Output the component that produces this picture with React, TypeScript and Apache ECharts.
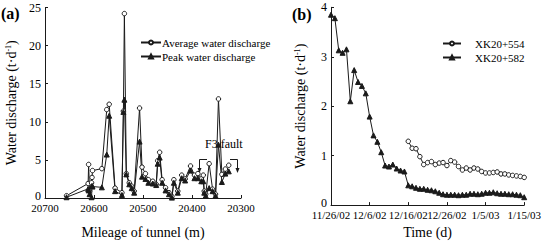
import React, { useEffect, useRef } from "react";
import * as echarts from "echarts";

// (a) Mileage of tunnel vs. water discharge
const mileage = [
  20656, 20612, 20611, 20609, 20605, 20604, 20603, 20584, 20574, 20569,
  20557, 20543, 20540, 20538, 20534, 20528, 20523, 20518, 20507, 20502,
  20495, 20489, 20480, 20473, 20470, 20466, 20461, 20454, 20447, 20441,
  20437, 20429, 20421, 20414, 20403, 20395, 20388, 20381, 20377, 20375,
  20372, 20365, 20358, 20352, 20346, 20339, 20332, 20325,
];
const avgDischarge = [
  0.3, 1.9, 4.4, 0.9, 2.0, 2.7, 3.6, 3.85, 11.6, 12.3,
  1.3, 0.7, 11.4, 24.2, 3.2, 2.0, 1.55, 0.9, 11.8, 4.05,
  3.2, 2.4, 2.2, 1.8, 4.9, 6.0, 2.4, 1.35, 0.7, 0.2,
  2.4, 0.9, 3.0, 2.5, 4.2, 3.0, 3.2, 2.5, 3.0, 0.9,
  0.5, 4.5, 1.15, 0.5, 13.0, 3.1, 3.8, 4.3,
];
const peakDischarge = [
  0.1, 1.2, 1.0, 0.5, 0.1, 1.6, 1.5, 1.4, 5.7, 10.8,
  0.9, 0.4, 11.3, 12.9, 3.1, 1.8, 1.3, 0.7, 7.4, 2.8,
  2.5, 2.0, 1.9, 1.7, 4.5, 5.3, 2.0, 1.0, 0.5, 0.05,
  2.0, 0.7, 2.6, 2.3, 3.6, 2.6, 2.6, 2.2, 2.2, 0.7,
  0.3, 1.3, 0.9, 0.3, 7.0, 2.1, 3.2, 3.5,
];
const mileageTicks = [20700, 20600, 20500, 20400, 20300];

// (b) Time vs. water discharge (days since 11/26/02)
const timeLabels = ["11/26/02", "12/6/02", "12/16/02", "12/26/02", "1/5/03", "1/15/03"];
const xk582Start = 0;
const xk582 = [
  3.85, 3.78, 3.13, 3.08, 3.15, 2.1, 2.73, 2.49, 2.41, 2.26,
  1.79, 1.41, 1.28, 1.07, 0.8, 0.78, 0.82, 0.74, 0.7, 0.68,
  0.4, 0.38, 0.35, 0.33, 0.33, 0.31, 0.3, 0.28, 0.25, 0.22,
  0.21, 0.21, 0.21, 0.2, 0.21, 0.21, 0.23, 0.23, 0.22, 0.23,
  0.25, 0.25, 0.26, 0.24, 0.23, 0.23, 0.22, 0.22, 0.21, 0.2,
  0.16,
];
const xk554Start = 20;
const xk554 = [
  1.29, 1.15, 1.14, 0.98, 0.82, 0.86, 0.88, 0.82, 0.85, 0.86,
  0.8, 0.9, 0.87, 0.78, 0.71, 0.75, 0.71, 0.75, 0.73, 0.68,
  0.65, 0.65, 0.66, 0.67, 0.63, 0.63, 0.61, 0.6, 0.59, 0.58,
  0.56,
];

const FONT = "'Liberation Serif', 'Times New Roman', serif";
const INK = "#1a1a1a";

export default function App() {
  const ref = useRef<HTMLDivElement>(null);

  useEffect(() => {
    if (!ref.current) return;
    const chart = echarts.init(ref.current, undefined, { renderer: "svg" });

    const axisCommon = {
      axisLine: { show: true, lineStyle: { color: INK, width: 1 } },
      axisTick: { show: true, inside: true, length: 3, lineStyle: { color: INK } },
      splitLine: { show: false },
      nameTextStyle: { color: "#000", fontFamily: FONT, fontSize: 14 },
    };
    const xLabel = {
      color: "#000",
      fontFamily: FONT,
      fontSize: 11,
      margin: 4,
      showMinLabel: true,
      showMaxLabel: true,
      hideOverlap: false,
    };
    const yLabel = {
      color: "#000",
      fontFamily: FONT,
      fontSize: 12,
      margin: 4,
      formatter: (v: number) => (v === 0 ? "{z|0}" : String(v)),
      rich: { z: { fontFamily: FONT, fontSize: 12, color: "#000", padding: [0, 0, 4, 0] } },
    };
    const yName = "Water discharge (t·d{sup|-1})";
    const yNameStyle = {
      color: "#000",
      fontFamily: FONT,
      fontSize: 14,
      rich: {
        sup: { fontFamily: FONT, fontSize: 8, verticalAlign: "top", color: "#000" },
      },
    };

    const lineSeries = (name: string, data: number[][], x: number, symbol: string, filled: boolean) => ({
      name,
      type: "line",
      xAxisIndex: x,
      yAxisIndex: x,
      data,
      symbol,
      symbolSize: symbol === "circle" ? 4.5 : 5,
      showSymbol: true,
      lineStyle: { color: INK, width: 1 },
      itemStyle: { color: filled ? INK : "#fff", borderColor: INK, borderWidth: 1 },
    });

    const legendText = (pad: number) => ({
      fontFamily: FONT,
      fontSize: 11,
      color: "#000",
      padding: [0, 0, 0, pad],
    });

    chart.setOption({
      animation: false,
      backgroundColor: "#fff",
      textStyle: { fontFamily: FONT },
      grid: [
        { left: 45, top: 7.5, width: 196, height: 199.5 },
        { left: 331, top: 7.3, width: 196.5, height: 199.5 },
      ],
      xAxis: [
        {
          ...axisCommon,
          gridIndex: 0,
          type: "value",
          inverse: true,
          min: 20300,
          max: 20700,
          interval: 100,
          axisLabel: {
            ...xLabel,
            formatter: (v: number) => (mileageTicks.includes(v) ? String(v) : ""),
          },
          name: "Mileage of tunnel (m)",
          nameLocation: "middle",
          nameGap: 27,
        },
        {
          ...axisCommon,
          gridIndex: 1,
          type: "value",
          min: 0,
          max: 50,
          interval: 10,
          axisLabel: {
            ...xLabel,
            formatter: (v: number) => timeLabels[Math.round(v / 10)] ?? "",
          },
          name: "Time (d)",
          nameLocation: "middle",
          nameGap: 17,
        },
      ],
      yAxis: [
        {
          ...axisCommon,
          gridIndex: 0,
          type: "value",
          min: 0,
          max: 25,
          interval: 5,
          axisLabel: yLabel,
          name: yName,
          nameLocation: "middle",
          nameGap: 27,
          nameTextStyle: yNameStyle,
        },
        {
          ...axisCommon,
          gridIndex: 1,
          type: "value",
          min: 0,
          max: 4,
          interval: 1,
          axisLabel: yLabel,
          name: yName,
          nameLocation: "middle",
          nameGap: 24,
          nameTextStyle: yNameStyle,
        },
      ],
      legend: [
        {
          data: ["Average water discharge", "Peak water discharge"],
          orient: "vertical",
          left: 140,
          top: 37,
          padding: 0,
          itemWidth: 20,
          itemHeight: 5,
          itemGap: 3,
          textStyle: legendText(-4),
        },
        {
          data: ["XK20+554", "XK20+582"],
          orient: "vertical",
          left: 442,
          top: 38,
          padding: 0,
          itemWidth: 18,
          itemHeight: 5,
          itemGap: 3,
          textStyle: legendText(9),
        },
      ],
      series: [
        lineSeries("Average water discharge", mileage.map((m, i) => [m, avgDischarge[i]]), 0, "circle", false),
        lineSeries("Peak water discharge", mileage.map((m, i) => [m, peakDischarge[i]]), 0, "triangle", true),
        lineSeries("XK20+554", xk554.map((v, i) => [xk554Start + i, v]), 1, "circle", false),
        lineSeries("XK20+582", xk582.map((v, i) => [xk582Start + i, v]), 1, "triangle", true),
      ],
      graphic: [
        { type: "text", left: 1, top: 5, style: { text: "(a)", font: `bold 16px ${FONT}`, fill: "#000" } },
        { type: "text", left: 292, top: 6, style: { text: "(b)", font: `bold 16px ${FONT}`, fill: "#000" } },
        { type: "text", left: 205, top: 138, style: { text: "F3 fault", font: `12px ${FONT}`, fill: "#000" } },
        { type: "polyline", shape: { points: [[207, 159.5], [199.5, 159.5], [199.5, 170]] }, style: { stroke: INK, lineWidth: 1, fill: "none" } },
        { type: "polygon", shape: { points: [[197.5, 168], [201.5, 168], [199.5, 173]] }, style: { fill: INK } },
        { type: "polyline", shape: { points: [[230, 159.5], [237.5, 159.5], [237.5, 170]] }, style: { stroke: INK, lineWidth: 1, fill: "none" } },
        { type: "polygon", shape: { points: [[235.5, 168], [239.5, 168], [237.5, 173]] }, style: { fill: INK } },
      ],
    });

    return () => chart.dispose();
  }, []);

  return (
    <div
      ref={ref}
      style={{ position: "fixed", left: 0, top: 0, width: 544, height: 244, background: "#fff" }}
    />
  );
}
